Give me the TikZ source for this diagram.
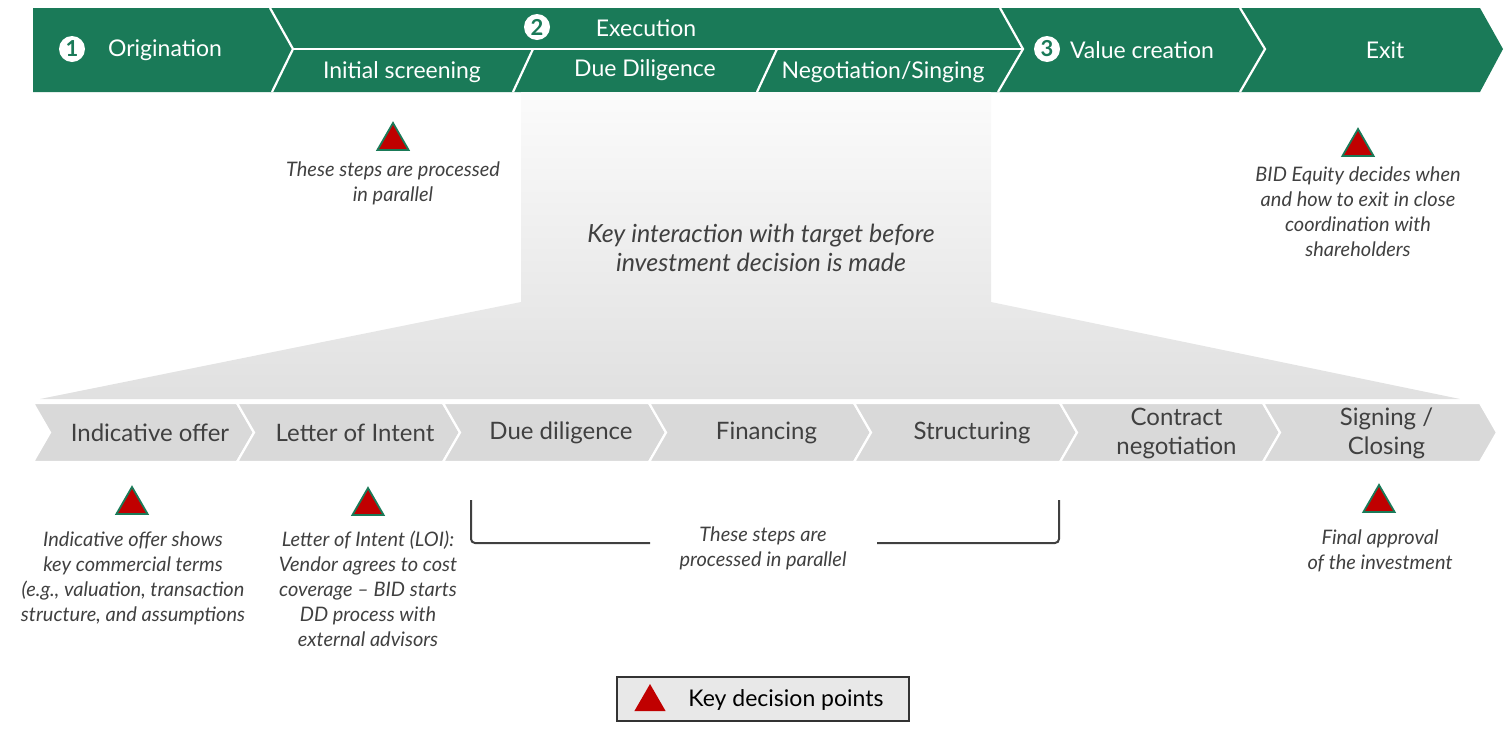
\documentclass[tikz,border=0pt]{standalone}
\usepackage{fontspec}
\setmainfont{Lato}
\usetikzlibrary{positioning, shapes.geometric}
\definecolor{bidgreen}{RGB}{26,122,88}
\definecolor{stepgray}{RGB}{217,217,217}
\definecolor{txtgray}{RGB}{64,64,64}
\definecolor{keyred}{RGB}{192,0,0}
\tikzset{
  phaselbl/.style={text=white, font=\fontsize{11.5}{13}\selectfont, inner sep=0pt},
  numdot/.style={circle, fill=white, text=bidgreen, minimum size=13pt, inner sep=0pt, font=\bfseries\fontsize{11}{11}\selectfont},
  steplbl/.style={text=txtgray, align=center, font=\fontsize{12}{14.5}\selectfont, inner sep=0pt},
  notelbl/.style={text=txtgray, align=center, font=\itshape\fontsize{10}{12.5}\selectfont, inner sep=0pt},
  keytri/.style={regular polygon, regular polygon sides=3, minimum size=18pt, inner sep=0pt, fill=keyred, draw=bidgreen, line width=0.9pt},
  sepline/.style={draw=white, line width=1.1pt},
}
\begin{document}
\begin{tikzpicture}[x=0.5pt, y=-0.5pt]
\useasboundingbox (0,0) rectangle (1509,729);

% green phase band
\fill[bidgreen] (33,8) -- (1480,8) -- (1503,49) -- (1480,92) -- (33,92) -- cycle;
\draw[sepline] (270,8) -- (293,49) -- (272,92);
\draw[sepline] (293,49) -- (1023,49);
\draw[sepline] (1000,8) -- (1023,49) -- (998,92);
\draw[sepline] (513,92) -- (533,49);
\draw[sepline] (757,92) -- (777,49);
\draw[sepline] (1240,8) -- (1265,49) -- (1240,92);

\node[numdot] (n1) at (72,49) {1};
\node[phaselbl] (orig) at (165,50) {Origination};
\node[numdot] (n2) at (537,27) {2};
\node[phaselbl] (exec) at (646,28) {Execution};
\node[phaselbl] (screen) at (402,72) {Initial screening};
\node[phaselbl] (ddil) at (645,70) {Due Diligence};
\node[phaselbl] (nego) at (883,72) {Negotiation/Singing};
\node[numdot] (n3) at (1047,49) {3};
\node[phaselbl] (value) at (1142,50) {Value creation};
\node[phaselbl] (exit) at (1385,50) {Exit};

% funnel
\shade[top color=gray!3, bottom color=gray!24] (521,92) -- (991,92) -- (991,302) -- (1460,399) -- (40,399) -- (521,302) -- cycle;
\node[text=txtgray, align=center, font=\itshape\fontsize{12.5}{14.5}\selectfont] (focus) at (761,248) {Key interaction with target before\\investment decision is made};

% process steps
\foreach \a/\b/\i/\txt in {33/237/1/{Indicative offer}, 237/443/2/{Letter of Intent}, 443/649/3/{Due diligence}, 649/854/4/{Financing}, 854/1060/5/{Structuring}, 1060/1263/6/{Contract\\negotiation}, 1263/1480/7/{Signing /\\Closing}}{
  \filldraw[fill=stepgray, draw=white, line width=1.1pt] (\a,403) -- (\b,403) -- (\b+17,432.5) -- (\b,462) -- (\a,462) -- (\a+17,432.5) -- cycle;
  \node[steplbl] (s\i) at (\a/2+\b/2+15,433) {\txt};
}

% decision points
\node[keytri] (t0) at (393,141) {};
\node[notelbl, anchor=north] (note0) at (393,161) {These steps are processed\\in parallel};
\node[keytri] (t5) at (1358,147) {};
\node[notelbl, anchor=north] (note5) at (1358,166) {BID Equity decides when\\and how to exit in close\\coordination with\\shareholders};
\node[keytri] (t1) at (132,505) {};
\node[notelbl, anchor=north] (note1) at (133,531) {Indicative offer shows\\key commercial terms\\(e.g., valuation, transaction\\structure, and assumptions};
\node[keytri] (t2) at (368,506) {};
\node[notelbl, anchor=north] (note2) at (368,531) {Letter of Intent (LOI):\\Vendor agrees to cost\\coverage -- BID starts\\DD process with\\external advisors};
\node[keytri] (t7) at (1379,503) {};
\node[notelbl, anchor=north] (note7) at (1380,529) {Final approval\\of the investment};

% parallel bracket
\node[notelbl] (par) at (763,548) {These steps are\\processed in parallel};
\coordinate (brL) at (471,500);
\coordinate (brR) at (1059,500);
\draw[txtgray, line width=1pt, rounded corners=2pt] (brL) -- (brL |- 0,543) -- (650,543);
\draw[txtgray, line width=1pt, rounded corners=2pt] (877,543) -- (brR |- 0,543) -- (brR);

% legend
\draw[fill=gray!18, draw=gray!40!black, line width=0.8pt] (617,677) rectangle (909,721);
\node[regular polygon, regular polygon sides=3, minimum size=18pt, inner sep=0pt, fill=keyred] (legtri) at (650,702) {};
\node[font=\fontsize{11.5}{13}\selectfont, inner sep=0pt] (legtxt) at (786,700) {Key decision points};
\end{tikzpicture}
\end{document}
